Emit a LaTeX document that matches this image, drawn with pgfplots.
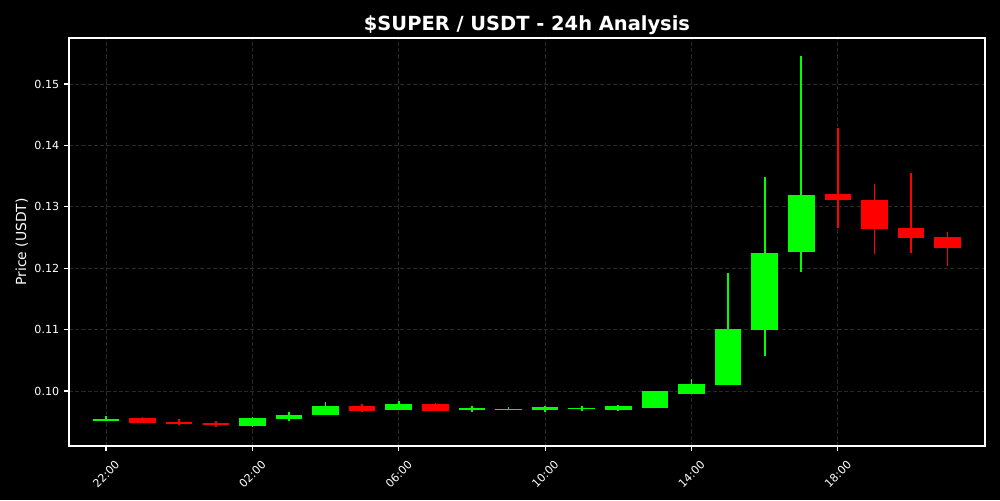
\documentclass[border=0pt]{standalone}
\usepackage{pgfplots}
\pgfplotsset{compat=1.18}
\usepackage{pgfplotstable}
\usepackage{fontspec}
\setmainfont{DejaVu Sans}
\definecolor{candleup}{RGB}{0,255,0}
\definecolor{candledown}{RGB}{255,0,0}
\definecolor{gridc}{RGB}{40,40,40}

% t = hours since 22:00
\pgfplotstableread{
t open high low close
0 0.09511 0.09588 0.09505 0.09544
4 0.09425 0.09572 0.09409 0.09555
5 0.09536 0.09653 0.09510 0.09609
6 0.09614 0.09816 0.09610 0.09756
8 0.09695 0.09832 0.09690 0.09788
10 0.09691 0.09751 0.09658 0.09728
11 0.09691 0.09740 0.09690 0.09712
12 0.09686 0.09760 0.09653 0.09734
13 0.09702 0.09760 0.09674 0.09728
14 0.09686 0.09772 0.09680 0.09751
15 0.09728 0.10000 0.09720 0.09995
16 0.09951 0.10195 0.09945 0.10114
17 0.10098 0.11927 0.10090 0.11010
18 0.10993 0.13490 0.10570 0.12252
19 0.12269 0.15456 0.11943 0.13192
}\greencandles

\pgfplotstableread{
t open high low close
1 0.09556 0.09572 0.09475 0.09479
2 0.09500 0.09539 0.09441 0.09467
3 0.09484 0.09511 0.09418 0.09451
7 0.09756 0.09783 0.09658 0.09679
9 0.09788 0.09805 0.09675 0.09679
20 0.13208 0.14279 0.12660 0.13111
21 0.13111 0.13371 0.12236 0.12638
22 0.12660 0.13550 0.12252 0.12497
23 0.12508 0.12590 0.12041 0.12334
}\redcandles

\begin{document}
\begin{tikzpicture}
\fill[black] (0,0) rectangle (720pt,360pt);
\begin{axis}[
  at={(49.68pt,38.88pt)}, anchor=south west,
  scale only axis, width=659.5pt, height=293.8pt,
  xmin=-1.011, xmax=24.02, ymin=0.09104, ymax=0.1575,
  axis background/.style={fill=black},
  axis line style={white, line width=0.8pt},
  tick align=outside, major tick length=3.5pt, tick pos=left,
  tick style={white, line width=0.8pt},
  /pgf/number format/assume math mode=true,
  ticklabel style={white, font=\fontsize{8}{9.6}\selectfont},
  xtick={0,4,8,12,16,20},
  xticklabels={22:00,02:00,06:00,10:00,14:00,18:00},
  xticklabel style={yshift=-16.6pt, rotate=45, anchor=center},
  ytick={0.10,0.11,0.12,0.13,0.14,0.15},
  yticklabel style={/pgf/number format/.cd, fixed, fixed zerofill, precision=2},
  scaled y ticks=false,
  grid=major,
  major grid style={gridc, line width=0.6pt, dash pattern=on 3pt off 1.5pt},
  title={\$SUPER / USDT - 24h Analysis},
  title style={white, font=\fontsize{14}{16}\selectfont\bfseries, yshift=-7pt},
  ylabel={Price (USDT)},
  ylabel style={white, font=\fontsize{10}{12}\selectfont, at={(axis description cs:-0.0516,0.5)}, anchor=center},
]
% wicks
\addplot[draw=none, mark=none, forget plot,
  error bars/.cd, y dir=plus, y explicit, error mark=none,
  error bar style={draw=candleup, solid, line width=1.2pt}]
  table[x=t, y=low, y error plus expr=\thisrow{high}-\thisrow{low}] {\greencandles};
\addplot[draw=none, mark=none, forget plot,
  error bars/.cd, y dir=plus, y explicit, error mark=none,
  error bar style={draw=candledown, solid, line width=1.2pt}]
  table[x=t, y=low, y error plus expr=\thisrow{high}-\thisrow{low}] {\redcandles};
% bodies
\addplot[draw=none, mark=none, forget plot,
  error bars/.cd, y dir=plus, y explicit, error mark=none,
  error bar style={draw=candleup, solid, line width=19.1pt}]
  table[x=t, y=open, y error plus expr=\thisrow{close}-\thisrow{open}] {\greencandles};
\addplot[draw=none, mark=none, forget plot,
  error bars/.cd, y dir=plus, y explicit, error mark=none,
  error bar style={draw=candledown, solid, line width=19.1pt}]
  table[x=t, y=close, y error plus expr=\thisrow{open}-\thisrow{close}] {\redcandles};
\end{axis}
\end{tikzpicture}
\end{document}
